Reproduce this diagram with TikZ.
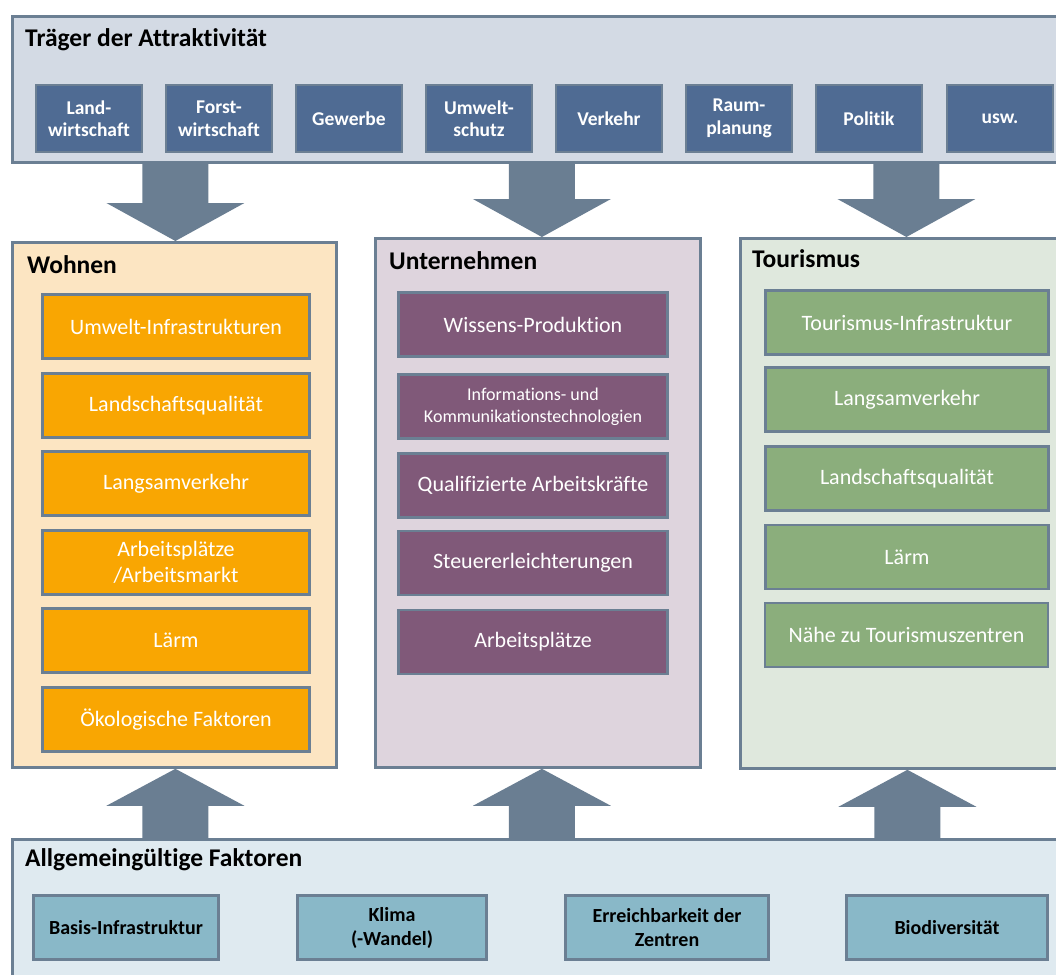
\documentclass[tikz,border=0pt]{standalone}
\usepackage{fontspec}
\setmainfont{Carlito}[Ligatures=NoCommon]
\usetikzlibrary{calc}
\definecolor{edge}{HTML}{6B7F93}
\definecolor{arrowc}{HTML}{6A7E92}
\definecolor{toppanel}{HTML}{D3DAE4}
\definecolor{topbox}{HTML}{4F6B93}
\definecolor{wohnpanel}{HTML}{FCE5C2}
\definecolor{orangebox}{HTML}{F9A602}
\definecolor{untpanel}{HTML}{DED4DD}
\definecolor{purplebox}{HTML}{805979}
\definecolor{tourpanel}{HTML}{DFE8DD}
\definecolor{greenbox}{HTML}{8BAE7C}
\definecolor{botpanel}{HTML}{DFEAF0}
\definecolor{botbox}{HTML}{89B8C8}
\tikzset{
  panel/.style={draw=edge, line width=2.8pt, anchor=north west, inner sep=0pt},
  ptitle/.style={anchor=west, inner sep=0pt, font=\fontsize{25.5}{30}\selectfont\bfseries},
  box/.style={draw=edge, line width=2.8pt, inner sep=0pt, align=center, text=white},
  topb/.style={box, fill=topbox, minimum width=106pt, minimum height=67pt, font=\fontsize{19.5}{22.5}\selectfont\bfseries},
  wb/.style={box, fill=orangebox, minimum width=267pt, minimum height=64pt, font=\fontsize{22}{26}\selectfont},
  ub/.style={box, fill=purplebox, minimum width=269pt, minimum height=64pt, font=\fontsize{22}{26}\selectfont},
  tb/.style={box, fill=greenbox, minimum width=283pt, minimum height=64pt, font=\fontsize{22}{26}\selectfont},
  bb/.style={box, fill=botbox, text=black, minimum height=64pt, font=\fontsize{20}{24}\selectfont\bfseries},
}
\newcommand\arrdown[2]{%
  \coordinate (s#1) at (top.south -| #1.north);
  \fill[arrowc] ($(#1.north)+(#2,0)$) -- ($(#1.north)+(#2+69,-38)$) -- ($(#1.north)+(#2+33,-38)$)
    -- ($(s#1)+(#2+33,-1)$) -- ($(s#1)+(#2-33,-1)$) -- ($(#1.north)+(#2-33,-38)$)
    -- ($(#1.north)+(#2-69,-38)$) -- cycle;}
\newcommand\arrup[2]{%
  \coordinate (b#1) at (bot.north -| #1.south);
  \fill[arrowc] ($(#1.south)+(#2,0)$) -- ($(#1.south)+(#2+69,37)$) -- ($(#1.south)+(#2+33,37)$)
    -- ($(b#1)+(#2+33,1)$) -- ($(b#1)+(#2-33,1)$) -- ($(#1.south)+(#2-33,37)$)
    -- ($(#1.south)+(#2-69,37)$) -- cycle;}
\begin{document}
\begin{tikzpicture}[x=1pt,y=-1pt]
\useasboundingbox (0,0) rectangle (1056,974);
\clip (0,0) rectangle (1056,974);
\fill[white] (0,0) rectangle (1056,974);
% panels
\node[panel, fill=toppanel, minimum width=1060pt, minimum height=146pt] (top) at (11,15) {};
\node[panel, fill=wohnpanel, minimum width=324pt, minimum height=525pt] (wohnen) at (11,241) {};
\node[panel, fill=untpanel, minimum width=325pt, minimum height=529pt] (unt) at (374,237) {};
\node[panel, fill=tourpanel, minimum width=333pt, minimum height=530pt] (tour) at (739,237) {};
\node[panel, fill=botpanel, minimum width=1060pt, minimum height=160pt] (bot) at (11,838) {};
% titles
\node[ptitle] (ttop) at (25,40) {Träger der Attraktivität};
\node[ptitle] (twohn) at (27,265) {Wohnen};
\node[ptitle] (tunt) at (389,261) {Unternehmen};
\node[ptitle] (ttour) at (752,259) {Tourismus};
\node[ptitle] (tbot) at (25,860) {Allgemeingültige Faktoren};
% top boxes
\node[topb] (t1) at (89,118.5) {Land-\\wirtschaft};
\node[topb] (t2) at (219,118.5) {Forst-\\wirtschaft};
\node[topb] (t3) at (349,118.5) {Gewerbe};
\node[topb] (t4) at (479,118.5) {Umwelt-\\schutz};
\node[topb] (t5) at (609,118.5) {Verkehr};
\node[topb] (t6) at (739,118.5) {Raum-\\planung};
\node[topb] (t7) at (869,118.5) {Politik};
\node[topb] (t8) at (1000,118.5) {usw.};
% Wohnen boxes
\node[wb] (w1) at (176,326.5) {Umwelt-Infrastrukturen};
\node[wb] (w2) at (176,405.5) {Landschaftsqualität};
\node[wb] (w3) at (176,483.5) {Langsamverkehr};
\node[wb] (w4) at (176,562.5) {Arbeitsplätze\\/Arbeitsmarkt};
\node[wb] (w5) at (176,640.5) {Lärm};
\node[wb] (w6) at (176,719.5) {Ökologische Faktoren};
% Unternehmen boxes
\node[ub] (u1) at (533,324.5) {Wissens-Produktion};
\node[ub, font=\fontsize{18}{22}\selectfont] (u2) at (533,406.5) {Informations- und\\Kommunikationstechnologien};
\node[ub] (u3) at (533,485.5) {Qualifizierte Arbeitskräfte};
\node[ub] (u4) at (533,563) {Steuererleichterungen};
\node[ub] (u5) at (533,642) {Arbeitsplätze};
% Tourismus boxes
\node[tb] (o1) at (907,322.5) {Tourismus-Infrastruktur};
\node[tb] (o2) at (907,399.5) {Langsamverkehr};
\node[tb] (o3) at (907,478.5) {Landschaftsqualität};
\node[tb] (o4) at (907,557) {Lärm};
\node[tb] (o5) at (906.5,635) {Nähe zu Tourismuszentren};
% bottom boxes
\node[bb, minimum width=185pt] (b1) at (126,927.5) {Basis-Infrastruktur};
\node[bb, minimum width=189pt] (b2) at (392,927.5) {Klima\\(-Wandel)};
\node[bb, minimum width=203pt] (b3) at (667,927.5) {Erreichbarkeit der\\Zentren};
\node[bb, minimum width=201pt] (b4) at (947,927.5) {Biodiversität};
% arrows
\arrdown{wohnen}{1}
\arrdown{unt}{4}
\arrdown{tour}{-0.5}
\arrup{wohnen}{1}
\arrup{unt}{4}
\arrup{tour}{0.5}
\end{tikzpicture}
\end{document}
